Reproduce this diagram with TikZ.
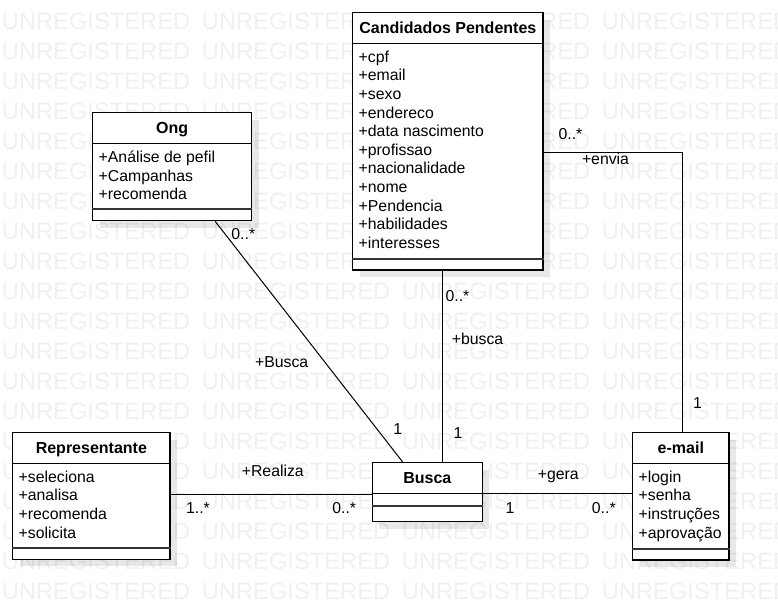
\documentclass[tikz,border=0pt]{standalone}
\usepackage{fontspec}
\setmainfont{Liberation Sans}
\usetikzlibrary{shadows}

\tikzset{
  classbox/.style={draw, fill=white, line width=1.3pt, inner sep=0pt,
    drop shadow={shadow xshift=7pt, shadow yshift=-7pt, fill=black, opacity=0.09}},
  classname/.style={inner sep=0pt, text height=11pt, text depth=0pt,
    font=\fontsize{16}{19}\selectfont\bfseries},
  attr/.style={anchor=west, inner sep=0pt, text height=11pt, text depth=0pt},
  lbl/.style={inner sep=0pt, text height=11pt, text depth=0pt},
  sepline/.style={line width=1.3pt},
  opsline/.style={line width=2.2pt, color=black!80},
  assoc/.style={line width=1pt},
  watermark/.style={anchor=west, inner sep=0pt, text=black!6,
    font=\fontsize{23.7}{28}\selectfont}
}

\begin{document}
\begin{tikzpicture}[x=1pt, y=-1pt, font=\fontsize{15.8}{18.7}\selectfont]
\useasboundingbox (0,0) rectangle (778,610);
% background text
\begin{scope}
\clip (0,0) rectangle (778,610);
\foreach \row in {0,...,19}
  \foreach \col in {0,...,3}
    \node[watermark] (wm-\row-\col) at (1.7+200*\col, 21+30*\row) {UNREGISTERED};
\end{scope}

% classes
\node[classbox, minimum width=190.3pt, minimum height=257.3pt] (cand) at (447.85, 141.35) {};
\node[classbox, minimum width=159pt, minimum height=108pt] (ong) at (172.2, 166.7) {};
\node[classbox, minimum width=157.3pt, minimum height=126.6pt] (rep) at (91.35, 496) {};
\node[classbox, minimum width=110pt, minimum height=59pt] (busca) at (427.3, 492.2) {};
\node[classbox, minimum width=96.3pt, minimum height=127.3pt] (email) at (680.85, 496.35) {};

\draw[sepline] (cand.west |- 0,43.3) -- (cand.east |- 0,43.3);
\draw[opsline] (cand.west |- 0,259.3) -- (cand.east |- 0,259.3);
\draw[sepline] (ong.west |- 0,143.3) -- (ong.east |- 0,143.3);
\draw[opsline] (ong.west |- 0,209.3) -- (ong.east |- 0,209.3);
\draw[sepline] (rep.west |- 0,463.3) -- (rep.east |- 0,463.3);
\draw[opsline] (rep.west |- 0,548.3) -- (rep.east |- 0,548.3);
\draw[sepline] (busca.west |- 0,493.3) -- (busca.east |- 0,493.3);
\draw[opsline] (busca.west |- 0,506) -- (busca.east |- 0,506);
\draw[sepline] (email.west |- 0,463.3) -- (email.east |- 0,463.3);
\draw[opsline] (email.west |- 0,549.3) -- (email.east |- 0,549.3);

\node[classname] (cand-title) at (cand.north |- 0,28) {Candidados Pendentes};
\node[classname] (ong-title) at (ong.north |- 0,128) {Ong};
\node[classname] (rep-title) at (rep.north |- 0,448) {Representante};
\node[classname] (busca-title) at (busca.north |- 0,478) {Busca};
\node[classname] (email-title) at (email.north |- 0,448) {e-mail};

\foreach \a [count=\i from 0] in {cpf, email, sexo, endereco, data nascimento,
    profissao, nacionalidade, nome, Pendencia, habilidades, interesses}
  \node[attr] (cand-a\i) at (358.5, 56.7+18.63*\i) {+\a};
\foreach \a [count=\i from 0] in {Análise de pefil, Campanhas, recomenda}
  \node[attr] (ong-a\i) at (98.5, 156.7+18.8*\i) {+\a};
\foreach \a [count=\i from 0] in {seleciona, analisa, recomenda, solicita}
  \node[attr] (rep-a\i) at (18.5, 476.7+18.7*\i) {+\a};
\foreach \a [count=\i from 0] in {login, senha, instruções, aprovação}
  \node[attr] (email-a\i) at (638.5, 476.7+18.6*\i) {+\a};

% associations
\draw[assoc] ([xshift=43pt]ong.south) -- ([xshift=-24.6pt]busca.north);
\coordinate (cb) at ([xshift=-5.5pt]cand.south);
\draw[assoc] (cb) -- (cb |- busca.north);
\draw[assoc] ([yshift=-1.8pt]busca.west) -- ([yshift=-1.8pt]busca.west -| rep.east);
\draw[assoc] ([yshift=-1pt]busca.east) -- ([yshift=-1pt]busca.east -| email.west);
\draw[assoc] ([yshift=-11.3pt]cand.east) -| ([xshift=1.8pt]email.north);

\node[lbl] (m-ong) at (243.3, 233.5) {0..*};
\node[lbl] (r-ong) at (281.7, 361.7) {+Busca};
\node[lbl] (m-busca1) at (397.7, 429) {1};
\node[lbl] (m-cand) at (457.5, 296.2) {0..*};
\node[lbl] (r-cand) at (477.5, 339) {+busca};
\node[lbl] (m-busca2) at (458, 433) {1};
\node[lbl] (r-rep) at (272.8, 471) {+Realiza};
\node[lbl] (m-rep) at (198, 507.5) {1..*};
\node[lbl] (m-busca3) at (344.2, 507.5) {0..*};
\node[lbl] (r-busca) at (558.3, 474) {+gera};
\node[lbl] (m-busca4) at (510, 507.5) {1};
\node[lbl] (m-email) at (603.8, 507.5) {0..*};
\node[lbl] (m-cand2) at (570.5, 134.2) {0..*};
\node[lbl] (r-email) at (605.5, 159) {+envia};
\node[lbl] (m-email2) at (697.5, 403) {1};
\end{tikzpicture}
\end{document}
